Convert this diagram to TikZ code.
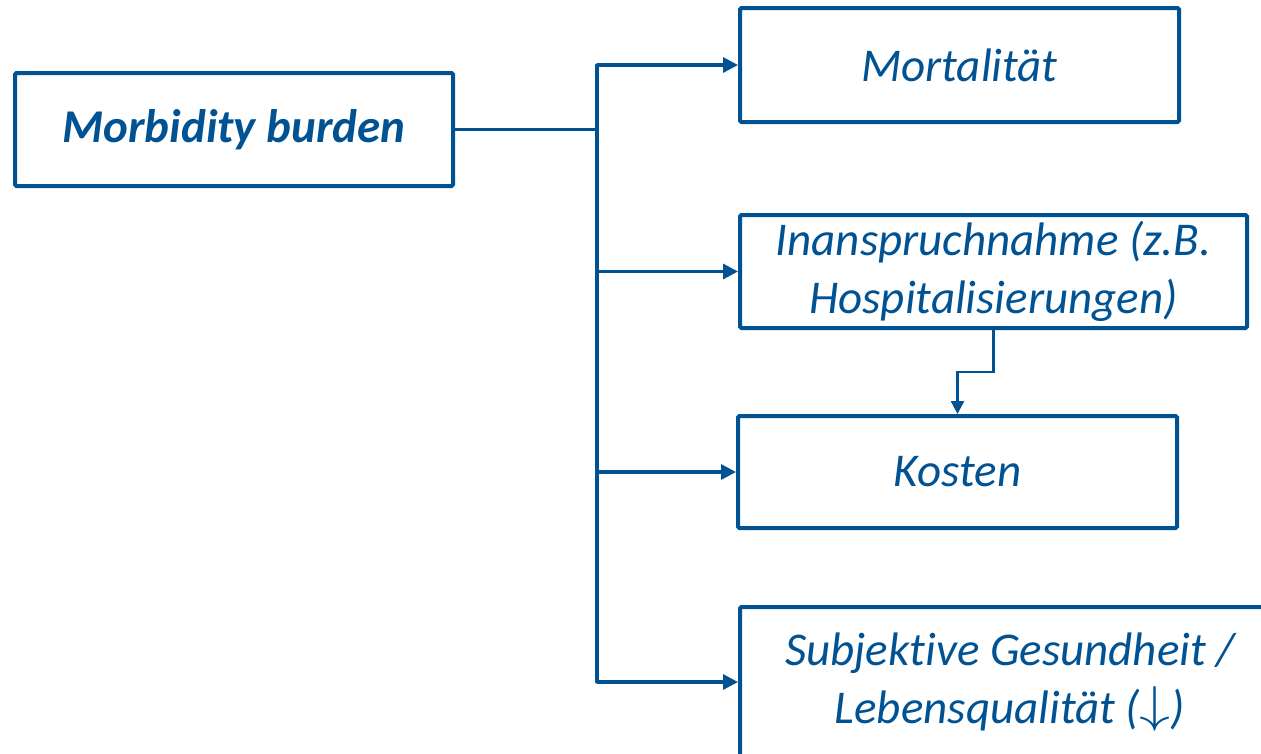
\documentclass[tikz,border=0pt]{standalone}
\usepackage{fontspec}
\usepackage{graphicx}
\setmainfont{Carlito}[Ligatures={NoCommon,NoRequired}]
\usetikzlibrary{arrows.meta}
\definecolor{burdenblue}{RGB}{0,82,147}
\newcommand{\downarr}{\raisebox{1.5pt}{\resizebox{31pt}{35pt}{\fontsize{10}{12}\selectfont$\downarrow$}}}

\begin{document}
\begin{tikzpicture}[x=1pt, y=-1pt,
    box/.style={draw=burdenblue, line width=4pt, rounded corners=1.5pt, text=burdenblue,
        align=center, inner sep=0pt, font=\fontsize{47}{58}\selectfont\itshape},
    link/.style={draw=burdenblue, line width=3.2pt, -{Triangle[length=15pt, width=15pt]}}]
    \useasboundingbox (0,0) rectangle (1261,753);
    \clip (0,0) rectangle (1261,753);
    % Boxes
    \node[box, minimum width=438pt, minimum height=113pt, font=\fontsize{47}{58}\selectfont\bfseries\itshape] (mb) at (234,129.5) {Morbidity burden};
    \node[box, minimum width=439pt, minimum height=114pt] (mort) at (959.5,65) {Mortalität};
    \node[box, minimum width=507pt, minimum height=113pt] (insp) at (993.5,271.5) {Inanspruchnahme (z.B.\\Hospitalisierungen)};
    \node[box, minimum width=439pt, minimum height=112pt] (kost) at (957.5,472) {Kosten};
    \node[box, minimum width=540pt, minimum height=150pt] (subj) at (1010,682) {Subjektive Gesundheit /\\Lebensqualität (\downarr)};
    % Trunk
    \coordinate (split) at (597,0);
    \draw[burdenblue, line width=3.2pt] (mb.east) -- (mb.east -| split);
    \draw[burdenblue, line width=3.2pt, line cap=round] (split |- mort.west) -- (split |- subj.west);
    % Arrows
    \draw[link] (split |- mort.west) -- (mort.west);
    \draw[link] (split |- insp.west) -- (insp.west);
    \draw[link] (split |- kost.west) -- (kost.west);
    \draw[link] (split |- subj.west) -- (subj.west);
    \draw[link, line width=2.5pt, -{Triangle[length=13pt, width=13pt]}] (insp.south) -- ++(0,42) -| (kost.north);
\end{tikzpicture}
\end{document}
